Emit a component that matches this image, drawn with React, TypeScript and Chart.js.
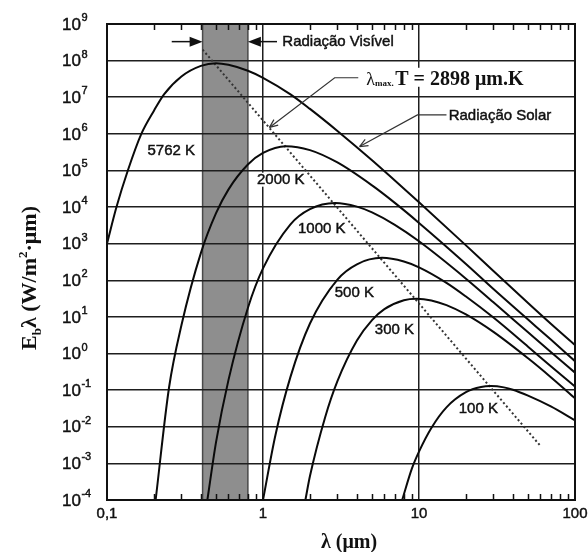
import React, { useEffect, useRef } from "react";
import { Chart, registerables } from "chart.js";

Chart.register(...registerables);

// ---- Data (wavelength in µm, emissive power in W/m²·µm) ----
const lambda5762 = [0.1, 0.115, 0.136, 0.166, 0.2, 0.232, 0.3, 0.4, 0.5, 0.6, 0.8, 1, 1.5, 2, 3, 5, 7, 10, 20, 30, 50, 70, 100];
const flux5762 = [1e3, 1e4, 1e5, 1e6, 4.3e6, 1.2e7, 3.7e7, 7.2e7, 8.5e7, 7.7e7, 5.3e7, 3.4e7, 1.2e7, 4.8e6, 1.2e6, 1.9e5, 5.3e4, 1.35e4, 900, 180, 24, 6.5, 1.7];

const lambda2000 = [0.205, 0.25, 0.3, 0.4, 0.5, 0.6, 0.8, 1, 1.4, 2, 3, 5, 7, 10, 20, 30, 50, 70, 100];
const flux2000 = [1e-4, 0.12, 5.9, 560, 6800, 3.0e4, 1.45e5, 3.0e5, 4.6e5, 3.6e5, 1.65e5, 3.9e4, 1.3e4, 3700, 280, 58, 8.5, 2.4, 0.62];

const lambda1000 = [0.44, 0.5, 0.6, 0.8, 1, 1.5, 2, 2.9, 4, 5, 7, 10, 20, 30, 50, 70, 100];
const flux1000 = [1e-4, 3.8e-3, 0.185, 17.6, 211, 3380, 8780, 1.29e4, 1.03e4, 7140, 3270, 1164, 111, 25, 3.8, 1.1, 0.3];

const lambda500 = [1.0, 1.2, 1.5, 2, 3, 4, 5.8, 8, 10, 15, 20, 30, 50, 70, 100];
const flux500 = [1e-4, 5.8e-3, 0.23, 6.6, 105, 274, 410, 325, 225, 85, 36, 9.6, 1.54, 0.45, 0.125];

const lambda300 = [1.87, 2, 2.5, 3, 4, 5, 6, 8, 9.66, 12, 15, 20, 30, 50, 70, 100];
const flux300 = [1e-4, 4.5e-4, 0.018, 0.176, 2.27, 8.2, 16.3, 28.5, 31.3, 28.2, 21, 11.7, 3.9, 0.74, 0.226, 0.06];

const lambda100 = [7.8, 9, 10, 12, 15, 20, 25, 29, 35, 40, 50, 70, 100];
const flux100 = [1e-4, 7.2e-4, 2.1e-3, 9.3e-3, 0.034, 0.088, 0.122, 0.129, 0.119, 0.103, 0.071, 0.036, 0.015];

const wienLambda = [0.41, 60];
const wienFlux = [2e8, 3e-3];

const visibleBand = [0.41, 0.8];

const curveLabels = ["5762 K", "2000 K", "1000 K", "500 K", "300 K", "100 K"];
const curveLabelLambda = [0.258, 1.3, 2.38, 3.85, 6.96, 24];
const curveLabelFlux = [3.6e5, 5.6e4, 2.7e3, 46, 4.7, 0.031];

const yTickExponents = [-4, -3, -2, -1, 0, 1, 2, 3, 4, 5, 6, 7, 8, 9];
const xTickValues = [0.1, 1, 10, 100];
const xTickLabels = ["0,1", "1", "10", "100"];
const xMajorGrid = [1, 10];

const SANS = "'Liberation Sans', Arial, sans-serif";
const SERIF = "'Liberation Serif', 'Times New Roman', serif";

function series(xs: number[], ys: number[]) {
  return xs.map((x, i) => ({ x, y: ys[i] }));
}

function heavyText(ctx: CanvasRenderingContext2D, t: string, x: number, y: number) {
  ctx.lineWidth = 0.45;
  ctx.strokeStyle = ctx.fillStyle as string;
  ctx.fillText(t, x, y);
  ctx.strokeText(t, x, y);
}

const decoPlugin = {
  id: "deco",
  beforeDraw(chart: any) {
    const { ctx, chartArea: a, scales } = chart;
    const x = scales.x;
    ctx.save();
    ctx.fillStyle = "#ffffff";
    ctx.fillRect(0, 0, chart.width, chart.height);
    const x0 = x.getPixelForValue(visibleBand[0]);
    const x1 = x.getPixelForValue(visibleBand[1]);
    ctx.fillStyle = "#8e8e8e";
    ctx.fillRect(x0, a.top, x1 - x0, a.bottom - a.top);
    ctx.strokeStyle = "#4a4a4a";
    ctx.lineWidth = 1.5;
    ctx.beginPath();
    ctx.moveTo(x0, a.top);
    ctx.lineTo(x0, a.bottom);
    ctx.moveTo(x1, a.top);
    ctx.lineTo(x1, a.bottom);
    ctx.stroke();
    ctx.restore();
  },
  afterDatasetsDraw(chart: any) {
    const { ctx, chartArea: a, scales } = chart;
    const x = scales.x;
    const y = scales.y;
    const P = (l: number, e: number) => [x.getPixelForValue(l), y.getPixelForValue(e)];
    ctx.save();

    // minor ticks (inside, top and bottom)
    ctx.strokeStyle = "#111";
    ctx.lineWidth = 1.5;
    ctx.beginPath();
    [0.1, 1, 10].forEach((d) => {
      for (let k = 2; k <= 9; k++) {
        const px = Math.round(x.getPixelForValue(d * k)) + 0.5;
        ctx.moveTo(px, a.bottom);
        ctx.lineTo(px, a.bottom - 6);
        ctx.moveTo(px, a.top);
        ctx.lineTo(px, a.top + 6);
      }
    });
    ctx.stroke();

    // frame
    ctx.lineWidth = 2;
    ctx.strokeStyle = "#111";
    ctx.strokeRect(a.left, a.top, a.right - a.left, a.bottom - a.top);

    // y tick labels 10^n
    ctx.fillStyle = "#111";
    ctx.textAlign = "left";
    ctx.textBaseline = "middle";
    yTickExponents.forEach((e) => {
      const py = y.getPixelForValue(Math.pow(10, e));
      ctx.font = `17px ${SANS}`;
      const lx = a.left - 45;
      heavyText(ctx, "10", lx, py + 1);
      const w = ctx.measureText("10").width;
      ctx.font = `11px ${SANS}`;
      heavyText(ctx, String(e), lx + w + 0.5, py - 6);
    });

    // x tick labels
    ctx.font = `15px ${SANS}`;
    ctx.textAlign = "center";
    xTickValues.forEach((v, i) => {
      heavyText(ctx, xTickLabels[i], x.getPixelForValue(v), a.bottom + 14);
    });

    // curve labels (with white backing)
    ctx.font = `15px ${SANS}`;
    ctx.textAlign = "center";
    ctx.textBaseline = "middle";
    curveLabels.forEach((t, i) => {
      const [px, py] = P(curveLabelLambda[i], curveLabelFlux[i]);
      const w = ctx.measureText(t).width;
      ctx.fillStyle = "#fff";
      ctx.fillRect(px - w / 2 - 1, py - 7, w + 2, 14);
      ctx.fillStyle = "#111";
      heavyText(ctx, t, px, py + 0.5);
    });

    // Radiação Visível arrows
    const arrowY = 3.3e8;
    const filledArrow = (tipX: number, tipY: number, dir: number) => {
      ctx.beginPath();
      ctx.moveTo(tipX, tipY);
      ctx.lineTo(tipX - dir * 13, tipY - 5);
      ctx.lineTo(tipX - dir * 13, tipY + 5);
      ctx.closePath();
      ctx.fill();
    };
    ctx.strokeStyle = "#111";
    ctx.fillStyle = "#111";
    ctx.lineWidth = 1.5;
    {
      const [sx, sy] = P(0.26, arrowY);
      const [tx] = P(visibleBand[0], arrowY);
      ctx.beginPath();
      ctx.moveTo(sx, sy);
      ctx.lineTo(tx - 10, sy);
      ctx.stroke();
      filledArrow(tx, sy, 1);
      const [ex] = P(1.23, arrowY);
      const [rx] = P(visibleBand[1], arrowY);
      ctx.beginPath();
      ctx.moveTo(ex, sy);
      ctx.lineTo(rx + 10, sy);
      ctx.stroke();
      filledArrow(rx, sy, -1);
      const [lx] = P(1.33, arrowY);
      ctx.font = `15px ${SANS}`;
      ctx.textAlign = "left";
      ctx.textBaseline = "middle";
      heavyText(ctx, "Radiação Visível", lx, sy + 0.5);
    }

    const openArrow = (fx: number, fy: number, tx: number, ty: number) => {
      const ang = Math.atan2(ty - fy, tx - fx);
      ctx.beginPath();
      ctx.moveTo(tx, ty);
      ctx.lineTo(tx - 9 * Math.cos(ang - 0.4), ty - 9 * Math.sin(ang - 0.4));
      ctx.moveTo(tx, ty);
      ctx.lineTo(tx - 9 * Math.cos(ang + 0.4), ty - 9 * Math.sin(ang + 0.4));
      ctx.stroke();
    };

    // λmax.T = 2898 µm.K
    {
      ctx.strokeStyle = "#333";
      ctx.lineWidth = 1.2;
      const [h0x, h0y] = P(4.08, 3.4e7);
      const [h1x] = P(2.88, 3.4e7);
      const [tipx, tipy] = P(1.1, 1.5e6);
      ctx.beginPath();
      ctx.moveTo(h0x, h0y);
      ctx.lineTo(h1x, h0y);
      ctx.lineTo(tipx, tipy);
      ctx.stroke();
      openArrow(h1x, h0y, tipx, tipy);

      const [tx, ty] = P(4.59, 3.4e7);
      ctx.textBaseline = "alphabetic";
      ctx.textAlign = "left";
      const rest = "T = 2898 \u03bcm.K";
      ctx.font = `18px ${SERIF}`;
      const wl = ctx.measureText("\u03bb").width;
      ctx.font = `bold 9px ${SERIF}`;
      const wm = ctx.measureText("max.").width;
      ctx.font = `bold 20px ${SERIF}`;
      const wr = ctx.measureText(rest).width;
      ctx.fillStyle = "#fff";
      ctx.fillRect(tx - 2, ty - 10, wl + wm + wr + 6, 19);
      ctx.fillStyle = "#111";
      const base = ty + 7;
      ctx.font = `18px ${SERIF}`;
      ctx.fillText("\u03bb", tx, base);
      ctx.font = `bold 9px ${SERIF}`;
      ctx.fillText("max.", tx + wl, base + 1);
      ctx.font = `bold 20px ${SERIF}`;
      ctx.fillText(rest, tx + wl + wm + 1.5, base);
    }

    // Radiação Solar
    {
      ctx.strokeStyle = "#333";
      ctx.lineWidth = 1.2;
      const [h0x, h0y] = P(15.0, 3.3e6);
      const [h1x] = P(9.77, 3.3e6);
      const [tipx, tipy] = P(4.16, 4.5e5);
      ctx.beginPath();
      ctx.moveTo(h0x, h0y);
      ctx.lineTo(h1x, h0y);
      ctx.lineTo(tipx, tipy);
      ctx.stroke();
      openArrow(h1x, h0y, tipx, tipy);
      const [tx, ty] = P(15.5, 3.3e6);
      ctx.font = `15px ${SANS}`;
      ctx.textAlign = "left";
      ctx.textBaseline = "middle";
      ctx.fillStyle = "#111";
      heavyText(ctx, "Radiação Solar", tx, ty + 0.5);
    }

    // axis titles
    ctx.fillStyle = "#111";
    ctx.textBaseline = "alphabetic";
    ctx.textAlign = "left";
    {
      const big = `bold 22px ${SERIF}`;
      const small = `bold 13px ${SERIF}`;
      const parts: [string, string, number][] = [
        ["E", big, 0],
        ["b", small, 5],
        ["\u03bb (W/m", big, 0],
        ["2", small, -9],
        ["\u00b7\u03bcm)", big, 0],
      ];
      let total = 0;
      parts.forEach(([t, f]) => {
        ctx.font = f;
        total += ctx.measureText(t).width;
      });
      ctx.save();
      ctx.translate(29, 278);
      ctx.rotate(-Math.PI / 2);
      let cx = -total / 2;
      parts.forEach(([t, f, dy]) => {
        ctx.font = f;
        ctx.fillText(t, cx, 7 + dy);
        cx += ctx.measureText(t).width;
      });
      ctx.restore();
    }
    {
      ctx.font = `bold 20px ${SERIF}`;
      ctx.textAlign = "center";
      ctx.fillText("\u03bb (\u03bcm)", (a.left + a.right) / 2 + 8, a.bottom + 48);
    }
    ctx.restore();
  },
};

export default function App() {
  const ref = useRef<HTMLCanvasElement | null>(null);
  useEffect(() => {
    if (!ref.current) return;
    const curve = (xs: number[], ys: number[]) => ({
      data: series(xs, ys),
      borderColor: "#0a0a0a",
      borderWidth: 2,
      pointRadius: 0,
      fill: false,
      cubicInterpolationMode: "monotone" as const,
    });
    const chart = new Chart(ref.current, {
      type: "line",
      data: {
        datasets: [
          curve(lambda5762, flux5762),
          curve(lambda2000, flux2000),
          curve(lambda1000, flux1000),
          curve(lambda500, flux500),
          curve(lambda300, flux300),
          curve(lambda100, flux100),
          {
            data: series(wienLambda, wienFlux),
            borderColor: "#333",
            borderWidth: 2,
            borderDash: [2, 2.5],
            pointRadius: 0,
            fill: false,
            tension: 0,
          },
        ],
      },
      options: {
        animation: false,
        responsive: false,
        devicePixelRatio: 1,
        events: [],
        layout: { padding: { left: 107, top: 24, right: 13, bottom: 52 } },
        plugins: { legend: { display: false }, tooltip: { enabled: false } },
        scales: {
          x: {
            type: "logarithmic",
            min: 0.1,
            max: 100,
            afterFit(s: any) {
              s.height = 0;
            },
            afterBuildTicks(s: any) {
              s.ticks = [0.1, ...xMajorGrid, 100].map((v) => ({ value: v }));
            },
            ticks: { display: false },
            border: { display: false },
            grid: {
              drawTicks: false,
              lineWidth: 1.5,
              color: (c: any) => (xMajorGrid.includes(c.tick?.value) ? "#1e1e1e" : "rgba(0,0,0,0)"),
            },
          },
          y: {
            type: "logarithmic",
            min: 1e-4,
            max: 1e9,
            afterFit(s: any) {
              s.width = 0;
            },
            afterBuildTicks(s: any) {
              s.ticks = yTickExponents.map((e) => ({ value: Math.pow(10, e) }));
            },
            ticks: { display: false },
            border: { display: false },
            grid: { drawTicks: false, lineWidth: 1.5, color: "#1e1e1e" },
          },
        },
      },
      plugins: [decoPlugin],
    } as any);
    return () => chart.destroy();
  }, []);
  return (
    <div style={{ position: "fixed", left: 0, top: 0, width: 588, height: 552, background: "#fff" }}>
      <canvas ref={ref} width={588} height={552} style={{ display: "block" }} />
    </div>
  );
}
